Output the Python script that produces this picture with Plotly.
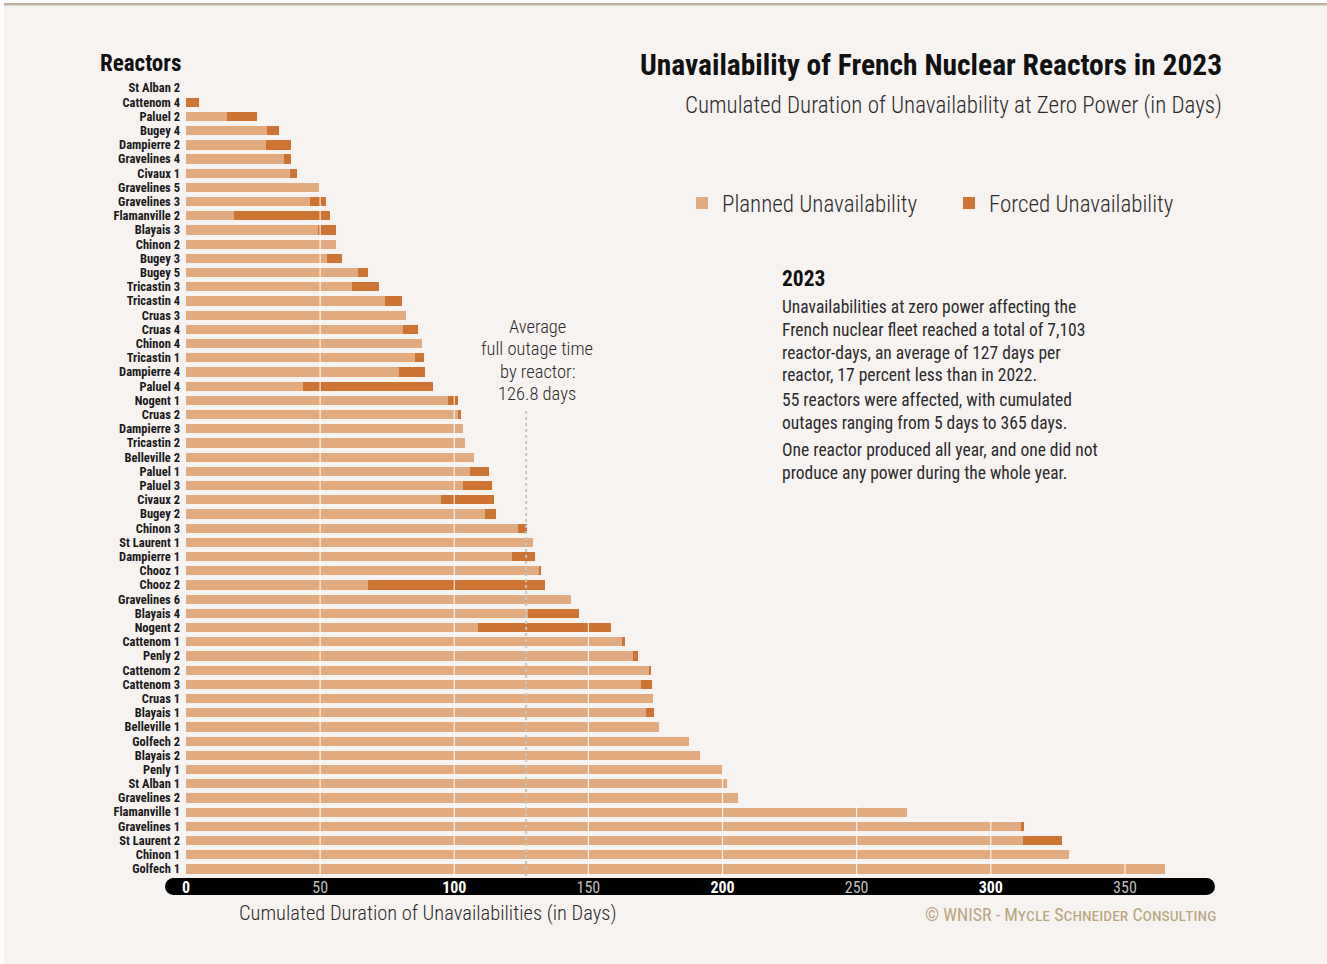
import plotly.graph_objects as go

# ---------------- data ----------------
reactors = [
    "St Alban 2", "Cattenom 4", "Paluel 2", "Bugey 4", "Dampierre 2", "Gravelines 4",
    "Civaux 1", "Gravelines 5", "Gravelines 3", "Flamanville 2", "Blayais 3", "Chinon 2",
    "Bugey 3", "Bugey 5", "Tricastin 3", "Tricastin 4", "Cruas 3", "Cruas 4", "Chinon 4",
    "Tricastin 1", "Dampierre 4", "Paluel 4", "Nogent 1", "Cruas 2", "Dampierre 3",
    "Tricastin 2", "Belleville 2", "Paluel 1", "Paluel 3", "Civaux 2", "Bugey 2",
    "Chinon 3", "St Laurent 1", "Dampierre 1", "Chooz 1", "Chooz 2", "Gravelines 6",
    "Blayais 4", "Nogent 2", "Cattenom 1", "Penly 2", "Cattenom 2", "Cattenom 3",
    "Cruas 1", "Blayais 1", "Belleville 1", "Golfech 2", "Blayais 2", "Penly 1",
    "St Alban 1", "Gravelines 2", "Flamanville 1", "Gravelines 1", "St Laurent 2",
    "Chinon 1", "Golfech 1",
]
planned = [
    0, 0, 15.3, 30.2, 29.8, 36.5,
    38.8, 49.6, 46.2, 17.9, 49.2, 55.9,
    52.6, 64.1, 61.9, 74.2, 82.0, 80.9, 88.0,
    85.4, 79.4, 43.6, 97.6, 101.4, 103.2,
    104.0, 107.3, 105.9, 103.2, 95.0, 111.4,
    123.7, 129.3, 121.5, 131.6, 67.8, 143.5,
    127.5, 108.8, 162.5, 166.6, 172.6, 169.6,
    174.0, 171.4, 176.3, 187.5, 191.6, 199.8,
    201.6, 205.7, 268.7, 311.6, 312.0,
    329.1, 365.0,
]
forced = [
    0, 4.7, 11.2, 4.5, 9.3, 2.6,
    2.6, 0, 6.0, 35.8, 6.7, 0,
    5.5, 3.7, 10.0, 6.3, 0, 5.6, 0,
    3.3, 9.7, 48.5, 3.8, 1.1, 0,
    0, 0, 7.0, 10.9, 19.8, 4.1,
    3.4, 0, 8.6, 0.7, 66.0, 0,
    19.0, 49.7, 1.1, 1.8, 0.7, 4.1,
    0, 3.0, 0, 0, 0, 0,
    0, 0, 0, 0.7, 14.4,
    0, 0,
]
average_days = 126.8
tick_vals = [0, 50, 100, 150, 200, 250, 300, 350]
series_names = ["Planned Unavailability", "Forced Unavailability"]

title_text = "Unavailability of French Nuclear Reactors in 2023"
subtitle_text = "Cumulated Duration of Unavailability at Zero Power (in Days)"
axis_title_text = "Cumulated Duration of Unavailabilities (in Days)"
avg_lines = ["Average", "full outage time", "by reactor:", "126.8 days"]
note_heading = "2023"
note_paragraphs = [
    ["Unavailabilities at zero power affecting the",
     "French nuclear fleet reached a total of 7,103",
     "reactor-days, an average of 127 days per",
     "reactor, 17 percent less than in 2022."],
    ["55 reactors were affected, with cumulated",
     "outages ranging from 5 days to 365 days."],
    ["One reactor produced all year, and one did not",
     "produce any power during the whole year."],
]
credit_text = "© WNISR - Mycle Schneider Consulting"

# ---------------- style ----------------
W, H = 1327, 964
ML, MR, MT, MB = 186, 135, 81, 88
PW, PH = W - ML - MR, H - MT - MB
XMAX = 375
BG = "#f7f3f1"
C_PLANNED = "#e1ab7f"
C_FORCED = "#cd7432"
FONT = "Roboto Condensed, Roboto, sans-serif"
TXT = "#2b2b2b"


def px(x):
    return (x - ML) / PW


def py(y):
    return (H - MB - y) / PH


fig = go.Figure()
fig.add_trace(go.Bar(y=reactors, x=planned, orientation="h", name=series_names[0],
                     marker=dict(color=C_PLANNED, line=dict(width=0))))
fig.add_trace(go.Bar(y=reactors, x=forced, orientation="h", name=series_names[1],
                     marker=dict(color=C_FORCED, line=dict(width=0))))

ticktext = []
for i, v in enumerate(tick_vals):
    if i % 2 == 0:
        ticktext.append(f"<span style='color:#ffffff'><b>{v}</b></span>")
    else:
        ticktext.append(f"<span style='color:#bdbdbd'>{v}</span>")

shapes = []
# outer page frame
shapes.append(dict(type="rect", xref="paper", yref="paper", x0=px(0), x1=px(4), y0=py(H), y1=py(0),
                   fillcolor="#ffffff", line=dict(width=0), layer="below"))
shapes.append(dict(type="rect", xref="paper", yref="paper", x0=px(0), x1=px(W), y0=py(3), y1=py(0),
                   fillcolor="#ffffff", line=dict(width=0), layer="below"))
shapes.append(dict(type="rect", xref="paper", yref="paper", x0=px(4), x1=px(W), y0=py(5.5), y1=py(3),
                   fillcolor="#bfb29e", line=dict(width=0), layer="below"))
# black axis band (pill)
band_l, band_r, band_t, band_b = 165, 1215, 878, 895
rad = (band_b - band_t) / 2
shapes.append(dict(type="rect", xref="paper", yref="paper", x0=px(band_l + rad), x1=px(band_r - rad),
                   y0=py(band_b), y1=py(band_t), fillcolor="#000000", line=dict(width=0), layer="below"))
for cx in (band_l + rad, band_r - rad):
    shapes.append(dict(type="circle", xref="paper", yref="paper", x0=px(cx - rad), x1=px(cx + rad),
                       y0=py(band_b), y1=py(band_t), fillcolor="#000000", line=dict(width=0),
                       layer="below"))
# white gridlines, drawn over the bars only (from the first bar reaching the value)
totals = [p + f for p, f in zip(planned, forced)]
n = len(reactors)
for v in tick_vals[1:]:
    first = next((i for i, t in enumerate(totals) if t > v), None)
    if first is None:
        continue
    shapes.append(dict(type="line", xref="x", yref="y", x0=v, x1=v, y0=first - 0.5, y1=n - 0.5,
                       line=dict(color="rgba(255,255,255,0.85)", width=1.2), layer="above"))
# average line
shapes.append(dict(type="line", xref="x", yref="paper", x0=average_days, x1=average_days,
                   y0=0, y1=py(410), line=dict(color="#c9c5c0", width=2, dash="3px,3px"),
                   layer="above"))

annotations = []


def ann(text, x, y, size, xanchor="left", weight=400, color=TXT, align="left", **kw):
    annotations.append(dict(text=text, x=px(x), y=py(y), xref="paper", yref="paper",
                            xanchor=xanchor, yanchor="middle", showarrow=False, align=align,
                            font=dict(family=FONT, size=size, color=color, weight=weight, **kw)))


ann("Reactors", 98, 63, 23, weight=700, color="#111")
ann(title_text, 1224, 65, 29.5, xanchor="right", weight=700, color="#111")
ann(subtitle_text, 1224, 105, 23, xanchor="right", weight=300, color=TXT)
for k, line in enumerate(avg_lines):
    ann(line, 537, 327 + k * 22.4, 18.5, xanchor="center", weight=300, color=TXT, align="center")
ann(axis_title_text, 427, 913, 20.5, xanchor="center", weight=300, color=TXT)
ann(credit_text, 1218, 914, 18, xanchor="right", color="#b9a57c", variant="small-caps")
ann(note_heading, 780, 279, 21.5, weight=700, color="#111")
para_centers = [341, 411, 461]
for para, yc in zip(note_paragraphs, para_centers):
    ann("<br>".join(para), 780, yc, 17.5, color=TXT)

fig.update_layout(
    width=W, height=H,
    margin=dict(l=ML, r=MR, t=MT, b=MB, pad=0),
    paper_bgcolor=BG, plot_bgcolor=BG,
    barmode="stack", bargap=0.35,
    font=dict(family=FONT, color=TXT),
    showlegend=True,
    legend=dict(orientation="h", x=px(682), xanchor="left", y=py(203), yanchor="middle",
                font=dict(family=FONT, size=23, weight=300, color=TXT),
                entrywidth=222, entrywidthmode="pixels", itemwidth=30,
                bgcolor="rgba(0,0,0,0)", traceorder="normal"),
    xaxis=dict(range=[0, XMAX], tickvals=tick_vals, ticktext=ticktext, showgrid=False,
               zeroline=False, showline=False, ticks="", ticklabelstandoff=0,
               tickfont=dict(family=FONT, size=16)),
    yaxis=dict(type="category", categoryorder="array", categoryarray=reactors,
               tickmode="array", tickvals=reactors, ticktext=reactors,
               range=[n - 0.5, -0.5], showgrid=False, zeroline=False,
               showline=False, ticks="", ticklabelstandoff=5,
               tickfont=dict(family=FONT, size=12.5, weight=700, color="#1a1a1a")),
    shapes=shapes, annotations=annotations,
    hovermode=False,
)

fig.write_html("out.html", config={"displayModeBar": False},
               post_script="document.body.style.margin='0px';")
